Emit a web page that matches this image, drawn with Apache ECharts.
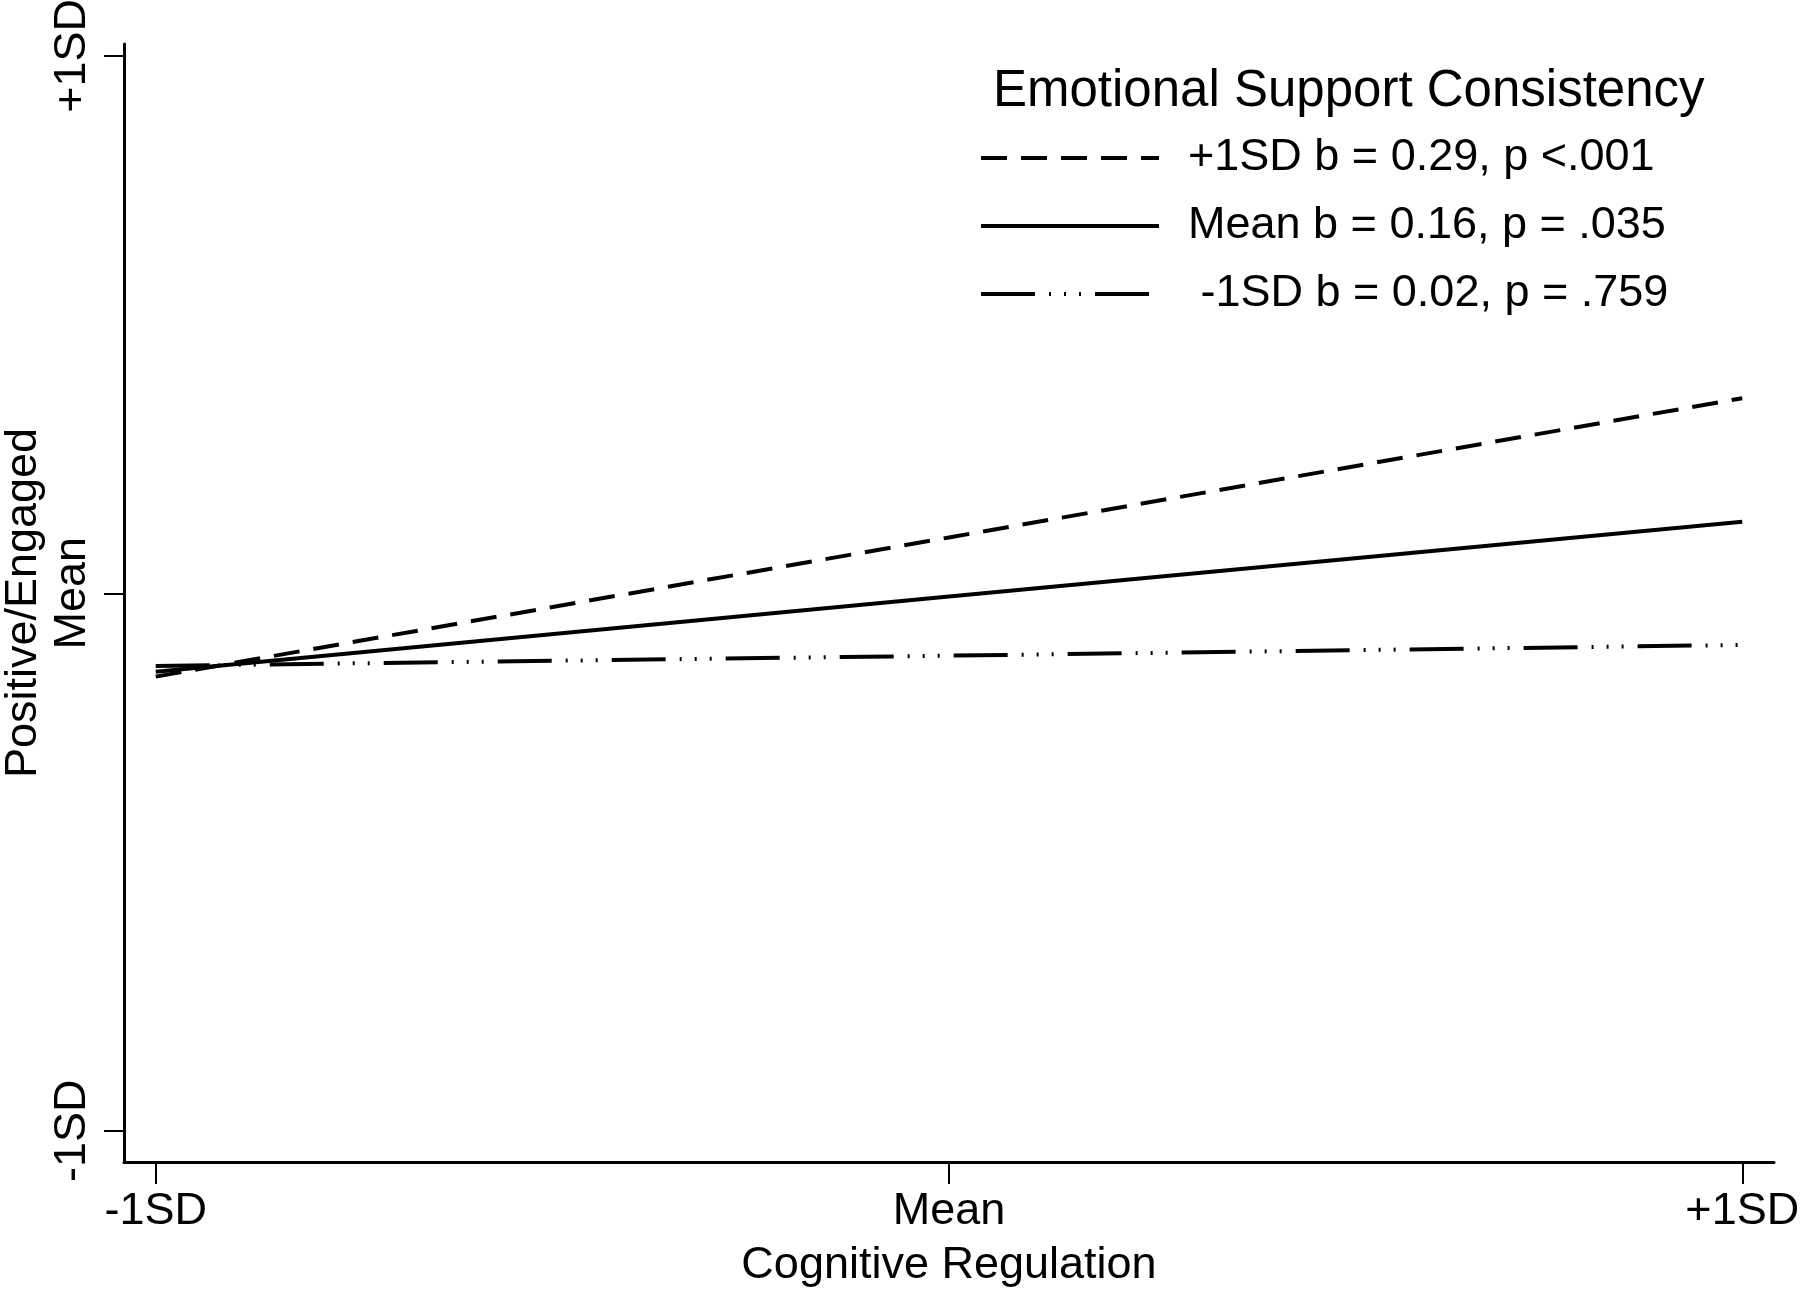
<!DOCTYPE html>
<html>
<head>
<meta charset="utf-8">
<script src="https://cdn.jsdelivr.net/npm/echarts@6.0.0/dist/echarts.min.js"></script>
<style>
  html, body { margin: 0; padding: 0; background: #fff; }
  #chart { width: 1800px; height: 1291px; }
</style>
</head>
<body>
<div id="chart"></div>
<script>
// ---- data ----
var xValues = [-1, 0, 1];
var xTickValues = [-1, 0, 1];
var xTickLabels = ['-1SD', 'Mean', '+1SD'];
var yTickValues = [-1, 0, 1];
var yTickLabels = ['-1SD', 'Mean', '+1SD'];
var highSupport = [-0.155, 0.104, 0.363];
var meanSupport = [-0.146, -0.006, 0.133];
var lowSupport = [-0.135, -0.116, -0.096];
var seriesNames = ['+1SD b = 0.29, p <.001', 'Mean b = 0.16, p = .035', ' -1SD b = 0.02, p = .759'];
var legendTitle = 'Emotional Support Consistency';
var xAxisName = 'Cognitive Regulation';
var yAxisName = 'Positive/Engaged';

var FONT = "'Liberation Sans', Arial, Helvetica, sans-serif";

function pairs(vals) {
  return xValues.map(function (x, i) { return [x, vals[i]]; });
}
function labelFor(values, labels) {
  return function (v) {
    for (var i = 0; i < values.length; i++) {
      if (Math.abs(values[i] - v) < 1e-9) return labels[i];
    }
    return '';
  };
}

var chart = echarts.init(document.getElementById('chart'), null, { renderer: 'canvas' });
var option = {
  animation: false,
  backgroundColor: '#fff',
  color: ['#000', '#000', '#000'],
  title: {
    text: legendTitle,
    left: 993,
    top: 64,
    padding: 0,
    textStyle: { fontFamily: FONT, fontSize: 51, lineHeight: 56, fontWeight: 'normal', color: '#000' }
  },
  legend: {
    orient: 'vertical',
    left: 979,
    top: 134,
    padding: 0,
    itemWidth: 178,
    itemHeight: 20,
    itemGap: 20,
    data: seriesNames,
    itemStyle: { color: 'rgba(0,0,0,0)', borderColor: 'rgba(0,0,0,0)', borderWidth: 0 },
    lineStyle: { width: 4 },
    textStyle: { fontFamily: FONT, fontSize: 45, lineHeight: 48, color: '#000', padding: [0, 0, 0, 24] }
  },
  grid: { left: 124, right: 26, top: 44, bottom: 129, containLabel: false, outerBoundsMode: 'none' },
  xAxis: {
    type: 'value',
    min: -1.04,
    max: 1.04,
    name: xAxisName,
    nameLocation: 'middle',
    nameGap: 81,
    nameMoveOverlap: false,
    nameTextStyle: { fontFamily: FONT, fontSize: 45, color: '#000' },
    splitLine: { show: false },
    axisLine: { show: true, onZero: false, lineStyle: { color: '#000', width: 3 } },
    axisTick: { show: true, length: 22, customValues: xTickValues, lineStyle: { color: '#000', width: 2 } },
    axisLabel: {
      customValues: xTickValues,
      formatter: labelFor(xTickValues, xTickLabels),
      fontFamily: FONT, fontSize: 45, color: '#000', margin: 27
    }
  },
  yAxis: {
    type: 'value',
    min: -1.058,
    max: 1.022,
    name: yAxisName,
    nameLocation: 'middle',
    nameRotate: 90,
    nameGap: 78,
    nameMoveOverlap: false,
    nameTextStyle: { fontFamily: FONT, fontSize: 45, color: '#000' },
    splitLine: { show: false },
    axisLine: { show: true, onZero: false, lineStyle: { color: '#000', width: 3 } },
    axisTick: { show: true, length: 20, customValues: yTickValues, lineStyle: { color: '#000', width: 2 } },
    axisLabel: {
      customValues: yTickValues,
      formatter: labelFor(yTickValues, yTickLabels),
      rotate: 90,
      fontFamily: FONT, fontSize: 45, color: '#000', margin: 29
    }
  },
  series: [
    {
      name: seriesNames[0], type: 'line', data: pairs(highSupport), symbol: 'none',
      itemStyle: { color: '#000' },
      lineStyle: { color: '#000', width: 4, type: [26, 14], cap: 'butt' }
    },
    {
      name: seriesNames[1], type: 'line', data: pairs(meanSupport), symbol: 'none',
      itemStyle: { color: '#000' },
      lineStyle: { color: '#000', width: 4, type: 'solid' }
    },
    {
      name: seriesNames[2], type: 'line', data: pairs(lowSupport), symbol: 'none',
      itemStyle: { color: '#000' },
      lineStyle: { color: '#000', width: 4, type: [54, 14, 2, 13, 2, 13, 2, 14], cap: 'butt' }
    }
  ]
};
chart.setOption(option);
</script>
</body>
</html>
